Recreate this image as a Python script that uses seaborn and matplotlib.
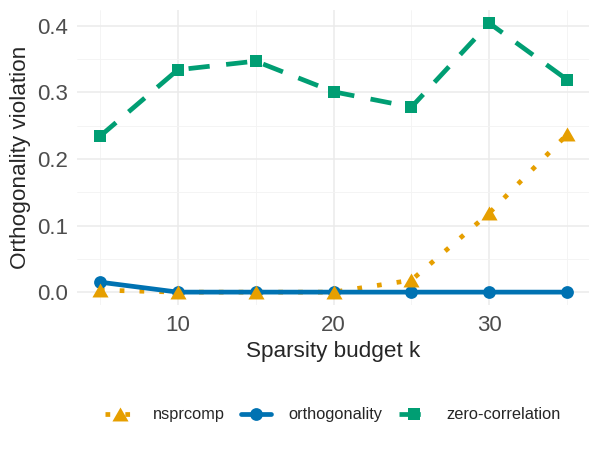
import pandas as pd
import seaborn as sns
import matplotlib.pyplot as plt
from matplotlib.lines import Line2D
from matplotlib.ticker import MultipleLocator

# Values
k_values = [5, 10, 15, 20, 25, 30, 35]
nsprcomp = [0.003, 0.0, 0.0, 0.0, 0.018, 0.119, 0.237]
orthogonality = [0.015, 0.0, 0.0, 0.0, 0.0, 0.0, 0.0]
zero_correlation = [0.234, 0.334, 0.347, 0.301, 0.278, 0.404, 0.319]

methods = ['nsprcomp', 'orthogonality', 'zero-correlation']
palette = {'nsprcomp': '#E69F00', 'orthogonality': '#0072B2',
           'zero-correlation': '#009E73'}
# equilateral triangle like ggplot's shape 17, centred on its box
tri = [(-1, -0.866), (1, -0.866), (0, 0.866)]
markers = {'nsprcomp': tri, 'orthogonality': 'o', 'zero-correlation': 's'}
msizes = {'nsprcomp': 11.6, 'orthogonality': 9.2, 'zero-correlation': 9.2}
dashes = {'nsprcomp': (1, 3.2), 'orthogonality': '', 'zero-correlation': (4.5, 3.5)}

df = pd.DataFrame({
    'k': k_values * 3,
    'violation': nsprcomp + orthogonality + zero_correlation,
    'method': [m for m in methods for _ in k_values],
})

sns.set_style('white')
plt.rcParams['font.family'] = ['Liberation Sans', 'DejaVu Sans']

fig, ax = plt.subplots(figsize=(6, 4.5), dpi=100)

lw = 3.4
# lines first, then the points on top (like ggplot layers)
sns.lineplot(data=df, x='k', y='violation', hue='method', style='method',
             palette=palette, dashes=dashes, hue_order=methods,
             style_order=methods, linewidth=lw, legend=False, ax=ax, zorder=2)
for m in methods[::-1]:
    sub = df[df['method'] == m]
    sns.scatterplot(data=sub, x='k', y='violation', color=palette[m],
                    marker=markers[m], s=msizes[m] ** 2, linewidth=0,
                    legend=False, ax=ax, zorder=3)

ax.set_xlim(3.52, 36.41)
ax.set_ylim(-0.0195, 0.424)
ax.xaxis.set_major_locator(MultipleLocator(10))
ax.xaxis.set_minor_locator(MultipleLocator(5))
ax.yaxis.set_major_locator(MultipleLocator(0.1))
ax.yaxis.set_minor_locator(MultipleLocator(0.05))
ax.yaxis.set_major_formatter(plt.FuncFormatter(lambda v, p: f'{v:.1f}'))
ax.grid(which='major', color='#ebebeb', linewidth=1.1)
ax.grid(which='minor', color='#f3f3f3', linewidth=0.6)
ax.set_axisbelow(True)
for s in ax.spines.values():
    s.set_visible(False)
ax.tick_params(which='both', length=0, labelsize=16, labelcolor='#4d4d4d')
ax.tick_params(axis='y', pad=6.5)
ax.tick_params(axis='x', pad=7)

ax.set_xlabel('Sparsity budget k', fontsize=16.2)
ax.set_ylabel('Orthogonality violation', fontsize=16.2)
ax.xaxis.label.set_va('center')
ax.yaxis.label.set_va('center')
ax.xaxis.set_label_coords(0.5, -0.157)
ax.yaxis.set_label_coords(-0.110, 0.5)

handles = []
for m in methods:
    h = Line2D([], [], color=palette[m], linewidth=lw,
               marker=markers[m], markersize=msizes[m], markeredgewidth=0)
    if dashes[m]:
        h.set_dashes(dashes[m])
    handles.append(h)
ax.legend(handles, methods, loc='center', bbox_to_anchor=(0.5, -0.372),
          ncol=3, frameon=False, fontsize=11.8, handlelength=1.8,
          columnspacing=1.0, handletextpad=1.1, numpoints=1)

fig.subplots_adjust(left=0.128, right=0.982, top=0.978, bottom=0.322)
fig.savefig('out.png', dpi=100)
